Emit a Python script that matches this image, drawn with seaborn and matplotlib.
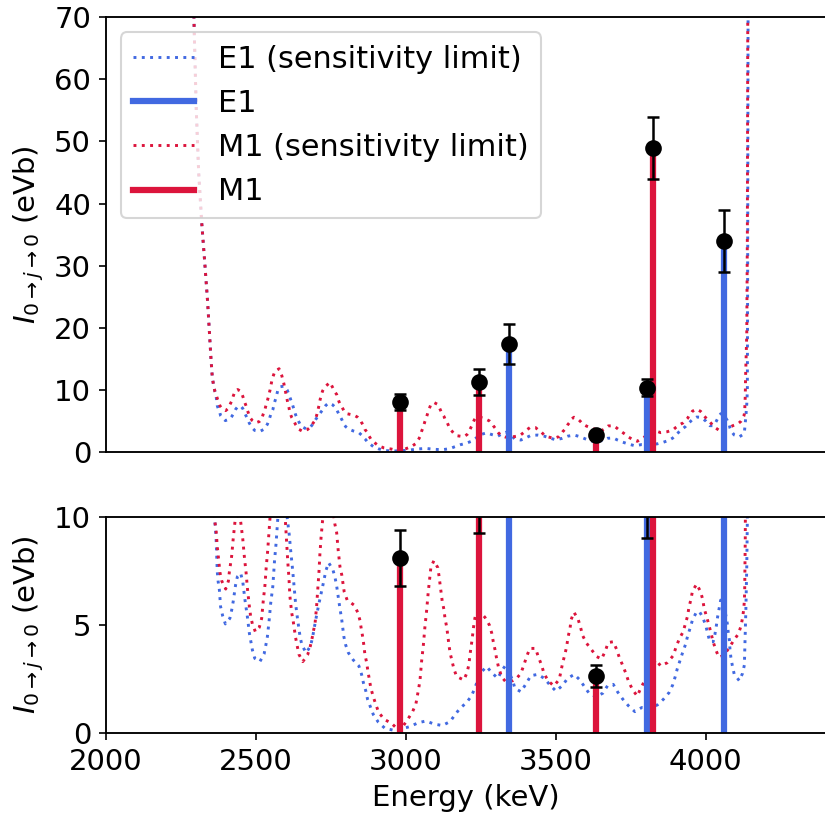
import numpy as np
import pandas as pd
import matplotlib
matplotlib.use("Agg")
import matplotlib.pyplot as plt
from matplotlib.lines import Line2D
import seaborn as sns

# ---------------- data ----------------
E1_lim_energy = [2288, 2295, 2302, 2310, 2320, 2331, 2340, 2346, 2351, 2355, 2359, 2364, 2368, 2370, 2372,
                 2375, 2379, 2383, 2390, 2399, 2414, 2420, 2425, 2433, 2439, 2450, 2457, 2464, 2472, 2479,
                 2489, 2497, 2514, 2528, 2534, 2539, 2545, 2550, 2557, 2563, 2568, 2574, 2582, 2594, 2605,
                 2612, 2617, 2623, 2628, 2633, 2640, 2648, 2654, 2668, 2683, 2690, 2700, 2711, 2723, 2734,
                 2743, 2757, 2764, 2770, 2778, 2787, 2794, 2800, 2809, 2825, 2844, 2853, 2859, 2867, 2873,
                 2883, 2892, 2909, 2931, 2957, 2985, 3014, 3042, 3068, 3094, 3122, 3148, 3164, 3181, 3203,
                 3220, 3231, 3250, 3270, 3287, 3307, 3320, 3334, 3345, 3357, 3364, 3384, 3401, 3417, 3440,
                 3462, 3481, 3501, 3522, 3540, 3562, 3581, 3598, 3614, 3635, 3657, 3673, 3692, 3707, 3723,
                 3742, 3764, 3787, 3810, 3839, 3859, 3878, 3890, 3898, 3905, 3914, 3923, 3933, 3940, 3948,
                 3956, 3970, 3980, 3989, 4000, 4006, 4014, 4025, 4031, 4036, 4040, 4045, 4050, 4060, 4072,
                 4075, 4079, 4081, 4084, 4089, 4095, 4112, 4123, 4129, 4130.5, 4132, 4134, 4135.5, 4137,
                 4138, 4139, 4140, 4141, 4142]
E1_lim_value = [85, 68, 55, 45, 37, 30, 24, 19, 15, 12.3, 10.9, 9.77, 9.0, 8.23, 7.46,
                7.0, 6.62, 5.85, 5.42, 5.05, 5.31, 5.69, 6.08, 6.85, 7.23, 7.39, 7.0, 6.19, 5.42, 4.62,
                3.85, 3.46, 3.31, 3.66, 4.08, 4.46, 5.23, 6.0, 6.77, 8.0, 8.77, 9.97, 10.5, 10.6, 9.97,
                9.15, 8.39, 7.57, 6.77, 6.0, 5.23, 4.46, 4.08, 3.72, 4.03, 4.46, 5.23, 6.0, 6.77, 7.51,
                7.88, 7.57, 7.23, 6.8, 6.03, 5.23, 4.46, 4.08, 3.72, 3.39, 3.11, 2.72, 2.34, 1.96, 1.57,
                1.2, 0.87, 0.51, 0.23, 0.15, 0.2, 0.31, 0.49, 0.57, 0.43, 0.36, 0.54, 0.85, 1.15, 1.42,
                1.74, 2.11, 2.8, 3.08, 2.8, 2.54, 2.88, 3.16, 2.8, 2.43, 2.08, 1.92, 2.28, 2.66, 2.72,
                2.54, 2.23, 1.95, 2.2, 2.54, 2.72, 2.46, 2.11, 1.8, 1.7, 1.85, 2.2, 2.26, 1.9, 1.59,
                1.28, 1.0, 1.19, 1.15, 1.31, 1.57, 1.88, 2.23, 2.59, 2.96, 3.34, 3.72, 4.11, 4.5, 4.85,
                5.23, 5.62, 5.6, 5.39, 5.0, 4.65, 4.23, 4.23, 4.58, 5.0, 5.39, 5.77, 6.15, 6.0, 5.08,
                4.69, 4.31, 3.88, 3.51, 3.12, 2.74, 2.43, 2.77, 3.15, 3.9, 4.7, 5.7, 6.7, 7.7,
                8.8, 9.9, 30, 60, 90]

M1_lim_energy = [2288, 2295, 2302, 2310, 2320, 2331, 2340, 2346, 2351, 2355, 2359, 2364, 2368, 2372, 2375,
                 2378, 2381, 2387, 2400, 2409, 2412, 2416, 2420, 2425, 2431, 2440, 2450, 2457, 2462, 2468,
                 2473, 2479, 2483, 2489, 2499, 2512, 2520, 2525, 2531, 2535, 2540, 2544, 2548, 2555, 2564,
                 2578, 2587, 2594, 2600, 2603, 2607, 2611, 2614, 2620, 2625, 2633, 2639, 2644, 2657, 2673,
                 2681, 2687, 2692, 2698, 2703, 2707, 2711, 2714, 2718, 2723, 2731, 2748, 2764, 2770, 2775,
                 2781, 2787, 2795, 2805, 2828, 2840, 2848, 2852, 2857, 2861, 2864, 2870, 2874, 2879, 2884,
                 2892, 2901, 2910, 2928, 2953, 2980, 3009, 3023, 3034, 3039, 3044, 3048, 3053, 3059, 3064,
                 3070, 3075, 3081, 3084, 3094, 3107, 3111, 3118, 3122, 3128, 3131, 3137, 3144, 3148, 3155,
                 3161, 3170, 3194, 3205, 3211, 3214, 3218, 3222, 3225, 3229, 3234, 3248, 3264, 3279, 3287,
                 3292, 3298, 3303, 3309, 3320, 3333, 3357, 3370, 3384, 3394, 3403, 3414, 3433, 3442, 3453,
                 3461, 3475, 3494, 3512, 3523, 3531, 3537, 3541, 3548, 3551, 3561, 3575, 3583, 3590, 3603,
                 3620, 3637, 3653, 3666, 3675, 3692, 3703, 3712, 3723, 3734, 3743, 3757, 3772, 3781, 3795,
                 3815, 3834, 3850, 3872, 3892, 3901, 3912, 3925, 3933, 3940, 3944, 3951, 3956, 3970, 3983,
                 3990, 3995, 4003, 4011, 4018, 4025, 4033, 4044, 4060, 4079, 4092, 4109, 4118, 4123, 4127,
                 4129, 4130, 4131, 4132, 4133, 4137, 4139, 4140, 4141]
M1_lim_value = [85, 68, 55, 45, 37, 30, 24, 19, 15, 12.3, 10.9, 9.77, 9.39, 8.62, 8.23,
                7.85, 7.42, 7.03, 6.66, 7.03, 7.42, 7.82, 8.19, 8.97, 9.77, 10.05, 9.77, 8.97, 8.19, 7.42,
                6.62, 5.85, 5.42, 5.05, 4.69, 4.89, 5.31, 6.08, 6.85, 7.65, 8.43, 9.2, 10.0, 11.75, 13.0,
                13.4, 12.3, 11.0, 9.54, 8.74, 7.92, 7.15, 6.34, 5.57, 5.19, 4.42, 4.0, 3.65, 3.31, 3.62,
                3.96, 4.31, 4.69, 5.08, 5.85, 6.66, 7.46, 8.26, 9.05, 9.82, 10.5, 11.2, 9.66, 9.26, 8.46,
                7.69, 7.31, 6.54, 6.15, 5.92, 5.59, 5.2, 4.82, 4.43, 4.03, 3.65, 3.26, 2.88, 2.49, 2.08,
                1.69, 1.31, 0.97, 0.65, 0.46, 0.1, 0.69, 1.0, 1.35, 1.74, 2.12, 2.49, 3.31, 4.08, 4.89,
                5.69, 6.49, 7.28, 7.66, 7.97, 7.65, 7.28, 6.49, 6.08, 5.69, 5.31, 4.89, 4.11, 3.72, 3.31,
                2.96, 2.62, 2.46, 2.82, 3.2, 3.59, 4.0, 4.39, 4.77, 5.19, 5.54, 5.6, 5.36, 5.0, 4.62,
                4.23, 3.85, 3.46, 3.08, 2.6, 2.39, 2.43, 2.54, 2.77, 3.15, 3.54, 3.92, 3.92, 3.54, 3.15,
                2.77, 2.42, 2.19, 2.49, 3.23, 3.66, 4.03, 4.43, 4.85, 5.23, 5.59, 5.26, 4.89, 4.51, 4.16,
                3.85, 3.54, 3.43, 3.82, 4.19, 4.23, 3.88, 3.51, 3.15, 2.77, 2.39, 2.0, 1.72, 2.0, 2.39,
                3.0, 3.39, 3.11, 3.26, 3.59, 3.97, 4.36, 4.69, 5.08, 5.43, 5.8, 6.19, 6.57, 6.89, 6.54,
                6.19, 5.77, 5.39, 5.0, 4.62, 4.23, 3.88, 3.51, 3.6, 3.96, 4.26, 4.59, 4.96, 5.34, 5.74,
                6.12, 6.51, 7.6, 9.0, 12.0, 19.0, 35.0, 62.0, 85.0]

E1_energy = [3343, 3806, 4062]
E1_value = [17.4, 10.35, 34.0]
E1_error = [3.2, 1.35, 5.0]

M1_energy = [2981, 3245, 3633, 3823]
M1_value = [8.1, 11.3, 2.66, 49.0]
M1_error = [1.3, 2.05, 0.5, 5.0]

legend_labels = ["E1 (sensitivity limit)", "E1", "M1 (sensitivity limit)", "M1"]
x_ticks = [2000, 2500, 3000, 3500, 4000]

# ---------------- style ----------------
plt.rcParams["font.family"] = ["DejaVu Sans"]
plt.rcParams["font.size"] = 14
plt.rcParams["mathtext.fontset"] = "dejavusans"

blue = "royalblue"
red = "crimson"
lw_lim = 1.4
dot_style = (0, (1, 1.85))
lw_bar = 3.0

df_e1 = pd.DataFrame({"Energy": E1_lim_energy, "I": E1_lim_value})
df_m1 = pd.DataFrame({"Energy": M1_lim_energy, "I": M1_lim_value})

fig = plt.figure(figsize=(5.5, 821 / 150), dpi=150)
ax_top = fig.add_axes([0.1281, 0.4495, 0.8727, 0.5295])
ax_bot = fig.add_axes([0.1281, 0.1068, 0.8727, 0.2638])

ylabel = r"$I_{0\rightarrow j\rightarrow 0}$ (eVb)"

for ax, ymax in [(ax_top, 70), (ax_bot, 10)]:
    sns.lineplot(data=df_e1, x="Energy", y="I", ax=ax, color=blue, linestyle=dot_style,
                 lw=lw_lim, estimator=None, zorder=1)
    sns.lineplot(data=df_m1, x="Energy", y="I", ax=ax, color=red, linestyle=dot_style,
                 lw=lw_lim, estimator=None, zorder=1)
    ax.vlines(E1_energy, 0, E1_value, colors=blue, lw=lw_bar, zorder=2)
    ax.vlines(M1_energy, 0, M1_value, colors=red, lw=lw_bar, zorder=2)
    ax.errorbar(E1_energy + M1_energy, E1_value + M1_value, yerr=E1_error + M1_error,
                fmt="o", color="black", markersize=7, capsize=3, elinewidth=1.2,
                capthick=1.2, zorder=3)
    ax.set_xlim(2000, 4400)
    ax.set_ylim(0, ymax)
    ax.set_ylabel(ylabel)
    ax.spines["right"].set_visible(False)
    for s in ["left", "top", "bottom"]:
        ax.spines[s].set_linewidth(0.9)

ax_top.set_yticks(np.arange(0, 71, 10))
ax_top.set_xticks(x_ticks)
ax_top.tick_params(axis="x", bottom=False, labelbottom=False)
ax_top.set_xlabel("")

ax_bot.set_yticks([0, 5, 10])
ax_bot.set_xticks(x_ticks)
ax_bot.set_xlabel("Energy (keV)")

handles = [
    Line2D([], [], color=blue, linestyle=dot_style, lw=lw_lim),
    Line2D([], [], color=blue, lw=lw_bar),
    Line2D([], [], color=red, linestyle=dot_style, lw=lw_lim),
    Line2D([], [], color=red, lw=lw_bar),
]
ax_top.legend(handles, legend_labels, loc="upper left", fontsize=14.6)

fig.savefig("out.png", dpi=150)
